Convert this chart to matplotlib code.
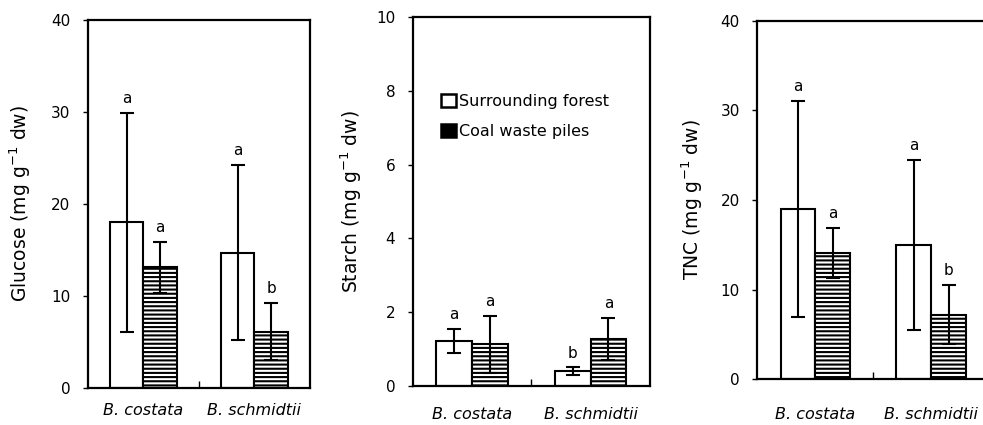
import matplotlib
matplotlib.use("Agg")
import matplotlib.pyplot as plt
from matplotlib.patches import Patch
import numpy as np

plt.rcParams['font.family'] = ['DejaVu Sans']
plt.rcParams['mathtext.fontset'] = 'dejavusans'
plt.rcParams['hatch.linewidth'] = 1.5

species = ['B. costata', 'B. schmidtii']
series = ['Surrounding forest', 'Coal waste piles']

glucose_forest = [18.0, 14.7]
glucose_forest_err = [11.9, 9.5]
glucose_coal = [13.1, 6.1]
glucose_coal_err = [2.8, 3.1]
glucose_letters = [['a', 'a'], ['a', 'b']]   # [species][series]

starch_forest = [1.22, 0.40]
starch_forest_err = [0.32, 0.10]
starch_coal = [1.13, 1.27]
starch_coal_err = [0.77, 0.57]
starch_letters = [['a', 'a'], ['b', 'a']]

tnc_forest = [19.0, 15.0]
tnc_forest_err = [12.0, 9.5]
tnc_coal = [14.1, 7.2]
tnc_coal_err = [2.8, 3.3]
tnc_letters = [['a', 'a'], ['a', 'b']]

panels = [
    ('Glucose', glucose_forest, glucose_forest_err, glucose_coal, glucose_coal_err,
     glucose_letters, 40, [0, 10, 20, 30, 40]),
    ('Starch', starch_forest, starch_forest_err, starch_coal, starch_coal_err,
     starch_letters, 10, [0, 2, 4, 6, 8, 10]),
    ('TNC', tnc_forest, tnc_forest_err, tnc_coal, tnc_coal_err,
     tnc_letters, 40, [0, 10, 20, 30, 40]),
]

# axes rectangles in figure fraction (left, bottom, width, height)
rects = [(0.0895, 0.087, 0.2258, 0.866),
         (0.4198, 0.092, 0.2414, 0.868),
         (0.7704, 0.1075, 0.236, 0.8438)]
xpads = [11, 15, 20]
ylpads = [13, 9, 11]

fig = plt.figure(figsize=(9.83, 4.25), dpi=100)
x = np.array([0.5, 1.5])
w = 0.3

for i, (name, f, fe, c, ce, letters, ymax, yticks) in enumerate(panels):
    ax = fig.add_axes(rects[i])
    ax.bar(x - w / 2, f, w, color='white', edgecolor='black', linewidth=1.5, zorder=2)
    ax.bar(x + w / 2, c, w, color='white', edgecolor='black', linewidth=1.5,
           hatch='----', zorder=2)
    ax.errorbar(x - w / 2, f, yerr=fe, fmt='none', ecolor='black', elinewidth=1.5,
                capsize=5, capthick=1.5, zorder=3)
    ax.errorbar(x + w / 2, c, yerr=ce, fmt='none', ecolor='black', elinewidth=1.5,
                capsize=5, capthick=1.5, zorder=3)
    for j in range(2):
        ax.annotate(letters[j][0], (x[j] - w / 2, f[j] + fe[j]), xytext=(0, 5),
                    textcoords='offset points', ha='center', va='bottom', fontsize=11)
        ax.annotate(letters[j][1], (x[j] + w / 2, c[j] + ce[j]), xytext=(0, 5),
                    textcoords='offset points', ha='center', va='bottom', fontsize=11)

    ax.set_xlim(0, 2)
    ax.set_ylim(0, ymax)
    ax.set_yticks(yticks)
    ax.tick_params(axis='y', direction='out', length=3.5, width=1, labelsize=11, pad=9)
    ax.set_xticks(x)
    ax.set_xticklabels(species, fontstyle='italic', fontsize=11.5)
    ax.tick_params(axis='x', length=0, pad=xpads[i])
    ax.set_xticks([1], minor=True)
    ax.tick_params(axis='x', which='minor', direction='in', length=5, width=1)
    for s in ax.spines.values():
        s.set_linewidth(1.6)
    ax.set_ylabel(name + ' (mg g$^{-1}$ dw)', fontsize=13.5, labelpad=ylpads[i])

    if i == 1:
        handles = [Patch(facecolor='white', edgecolor='black', linewidth=1.8),
                   Patch(facecolor='black', edgecolor='black', linewidth=1.8)]
        ax.legend(handles, series, loc='upper left', bbox_to_anchor=(0.06, 0.83),
                  frameon=False, fontsize=11.5, handlelength=0.9, handleheight=0.9,
                  handletextpad=0.2, labelspacing=0.9)

fig.savefig('out.png', dpi=100)
